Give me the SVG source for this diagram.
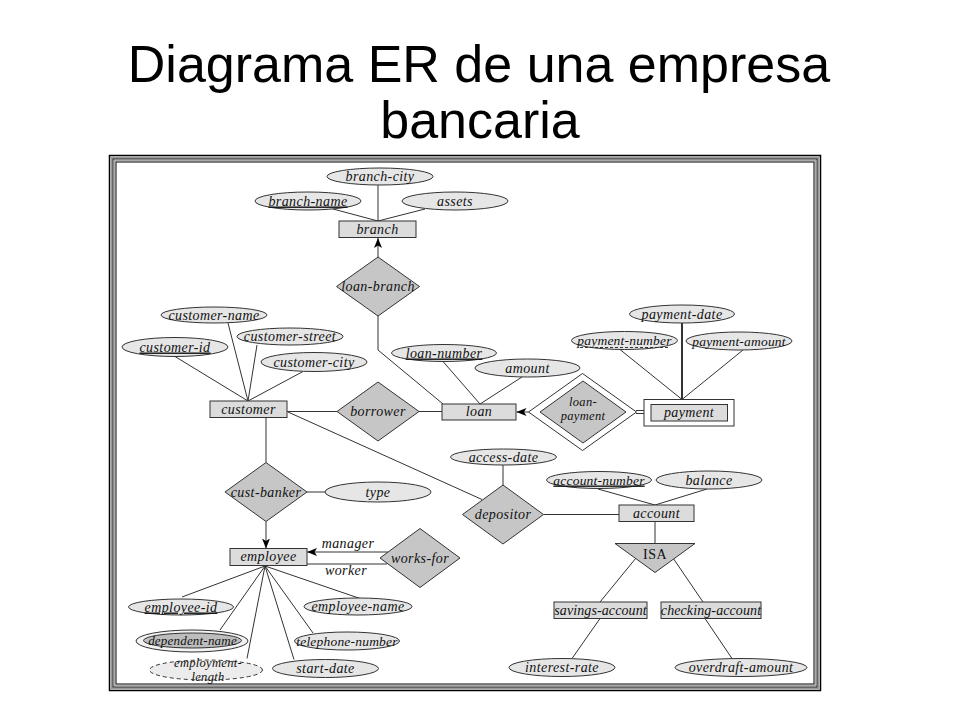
<svg xmlns="http://www.w3.org/2000/svg" width="960" height="720" viewBox="0 0 960 720">
<defs>
<marker id="arr" markerUnits="userSpaceOnUse" markerWidth="10" markerHeight="8" refX="10" refY="4" orient="auto">
<path d="M0,0 L10,4 L0,8 L2.5,4 z" fill="#000"/>
</marker>
<style>
.t{font-family:"Liberation Serif","Times New Roman",serif;font-style:italic;font-size:14px;letter-spacing:0.4px;fill:#111;text-anchor:middle}
.title{font-family:"Liberation Sans",Arial,sans-serif;font-size:52px;fill:#000;text-anchor:middle}
.ent{fill:#dcdcdc;stroke:#333;stroke-width:1}
.attr{fill:#e6e6e6;stroke:#333;stroke-width:1}
.rel{fill:#c6c6c6;stroke:#333;stroke-width:1}
.c line,.c polyline{stroke:#333;stroke-width:1;fill:none}
.u{text-decoration:underline}
.s{font-size:12.5px;letter-spacing:0.3px}
</style>
</defs>
<rect width="960" height="720" fill="#fff"/>
<text class="title" x="479" y="82">Diagrama ER de una empresa</text>
<text class="title" x="480" y="138">bancaria</text>

<g id="frame" fill="none">
<rect x="109.5" y="155.5" width="711" height="535" stroke="#000" stroke-width="1.5"/>
<rect x="111.5" y="157.5" width="707" height="531" stroke="#999" stroke-width="2"/>
<rect x="113" y="159" width="704" height="528" stroke="#000" stroke-width="1"/>
<rect x="114.5" y="160.5" width="701" height="525" stroke="#aaa" stroke-width="1.5"/>
<rect x="116" y="162" width="698" height="522" stroke="#000" stroke-width="1"/>
</g>

<g id="connectors" class="c">
<line x1="378" y1="185" x2="378" y2="221"/>
<line x1="333" y1="209" x2="378" y2="221"/>
<line x1="425" y1="209" x2="378" y2="221"/>
<line x1="378" y1="257" x2="378" y2="238" marker-end="url(#arr)"/>
<polyline points="378,316 378,350 443,404"/>
<line x1="175" y1="356.5" x2="248" y2="401"/>
<line x1="228" y1="323" x2="248" y2="401"/>
<line x1="257" y1="345" x2="248" y2="401"/>
<line x1="303" y1="371.5" x2="248" y2="401"/>
<line x1="287" y1="411.5" x2="337" y2="411.5"/>
<line x1="419" y1="411.5" x2="442" y2="411.5"/>
<line x1="443" y1="361.5" x2="480" y2="404"/>
<line x1="522" y1="377" x2="480" y2="404"/>
<line x1="528.5" y1="412" x2="516.5" y2="412" marker-end="url(#arr)"/>
<line x1="636" y1="410.5" x2="644" y2="410.5"/>
<line x1="636" y1="413.5" x2="644" y2="413.5"/>
<line x1="682" y1="323" x2="682" y2="399.5" style="stroke-width:2"/>
<line x1="620" y1="349.5" x2="682" y2="399.5"/>
<line x1="743" y1="350" x2="682" y2="399.5"/>
<line x1="288" y1="412" x2="482" y2="499.5"/>
<line x1="266" y1="417" x2="266" y2="462.5"/>
<line x1="307" y1="492" x2="325" y2="492"/>
<line x1="266" y1="521.5" x2="266" y2="548.5" marker-end="url(#arr)"/>
<line x1="388.5" y1="552" x2="307" y2="552" marker-end="url(#arr)"/>
<line x1="387" y1="564" x2="307" y2="564"/>
<line x1="265" y1="566" x2="182" y2="597"/>
<line x1="265" y1="566" x2="360" y2="598.5"/>
<line x1="265" y1="566" x2="220" y2="630"/>
<line x1="265" y1="566" x2="313" y2="633"/>
<line x1="265" y1="566" x2="247" y2="658.5"/>
<line x1="265" y1="566" x2="294" y2="659.5"/>
<line x1="503" y1="465" x2="503" y2="485"/>
<line x1="543.5" y1="514.5" x2="619" y2="514.5"/>
<line x1="598" y1="489" x2="655" y2="505"/>
<line x1="707" y1="489" x2="655" y2="505"/>
<line x1="655" y1="521.5" x2="655" y2="543.5"/>
<line x1="636" y1="558" x2="600" y2="602"/>
<line x1="673" y1="558" x2="703" y2="602"/>
<line x1="600" y1="618.5" x2="572" y2="658.5"/>
<line x1="705" y1="618.5" x2="732" y2="658.5"/>
</g>

<g id="branch-city"><ellipse class="attr" cx="380" cy="176.5" rx="53" ry="8.5"/><text class="t" x="380" y="181">branch-city</text></g>
<g id="branch-name"><ellipse class="attr" cx="308" cy="201" rx="53" ry="9"/><text class="t u" x="308" y="205.5">branch-name</text></g>
<g id="assets"><ellipse class="attr" cx="455" cy="201" rx="53" ry="9"/><text class="t" x="455" y="205.5">assets</text></g>
<g id="branch"><rect class="ent" x="339" y="221" width="77" height="16.5"/><text class="t" x="377.5" y="233.5">branch</text></g>
<g id="loan-branch"><polygon class="rel" points="378,257 419.5,286.5 378,316 336.5,286.5"/><text class="t" x="378" y="291">loan-branch</text></g>

<g id="customer-name"><ellipse class="attr" cx="214" cy="315" rx="53" ry="8"/><text class="t" x="214" y="319.5">customer-name</text></g>
<g id="customer-street"><ellipse class="attr" cx="290" cy="336.5" rx="53" ry="8.5"/><text class="t" x="290" y="341">customer-street</text></g>
<g id="customer-id"><ellipse class="attr" cx="175" cy="347" rx="53" ry="9.5"/><text class="t u" x="175" y="351.5">customer-id</text></g>
<g id="customer-city"><ellipse class="attr" cx="314" cy="362" rx="53" ry="9.5"/><text class="t" x="314" y="366.5">customer-city</text></g>
<g id="customer"><rect class="ent" x="210" y="401" width="77" height="16.5"/><text class="t" x="248.5" y="413.5">customer</text></g>
<g id="borrower"><polygon class="rel" points="378,382 419,411.5 378,441 337,411.5"/><text class="t" x="378" y="416">borrower</text></g>
<g id="loan-number"><ellipse class="attr" cx="444" cy="353" rx="52.5" ry="8.5"/><text class="t u" x="444" y="357.5">loan-number</text></g>
<g id="amount"><ellipse class="attr" cx="527.5" cy="368" rx="52.5" ry="9"/><text class="t" x="527.5" y="372.5">amount</text></g>
<g id="loan"><rect class="ent" x="442" y="404" width="74" height="16"/><text class="t" x="479" y="416">loan</text></g>
<g id="loan-payment"><polygon points="582.5,373.5 636.5,412 582.5,450.5 528.5,412" fill="#fff" stroke="#333"/><polygon class="rel" points="583,381 626,412 583,443 540,412"/><text class="t s" x="583" y="406">loan-</text><text class="t s" x="583" y="420">payment</text></g>
<g id="payment"><rect x="644" y="399.5" width="90" height="26.5" fill="#fff" stroke="#333"/><rect class="ent" x="651" y="404.5" width="76.5" height="16.5"/><text class="t" x="689" y="417">payment</text></g>
<g id="payment-date"><ellipse class="attr" cx="682" cy="314" rx="52.5" ry="9"/><text class="t" x="682" y="318.5">payment-date</text></g>
<g id="payment-number"><ellipse class="attr" cx="624.5" cy="340.5" rx="53" ry="9"/><text class="t" x="624.5" y="345" style="font-size:13.5px;letter-spacing:0.2px">payment-number</text><line x1="580" y1="347.5" x2="670" y2="347.5" stroke="#222" stroke-width="0.9" stroke-dasharray="3,2"/></g>
<g id="payment-amount"><ellipse class="attr" cx="739" cy="341" rx="53" ry="9"/><text class="t" x="739" y="345.5" style="font-size:13.5px;letter-spacing:0.2px">payment-amount</text></g>

<g id="cust-banker"><polygon class="rel" points="266,462.5 307,492 266,521.5 225,492"/><text class="t" x="266" y="496.5">cust-banker</text></g>
<g id="type"><ellipse class="attr" cx="378" cy="492" rx="53" ry="10"/><text class="t" x="378" y="496.5">type</text></g>
<g id="employee"><rect class="ent" x="230" y="548.5" width="77" height="17"/><text class="t" x="268.5" y="561">employee</text></g>
<g id="works-for"><polygon class="rel" points="420,528.5 460,558 420,587.5 380,558"/><text class="t" x="420" y="562.5">works-for</text></g>
<g id="role-labels"><text class="t" x="348" y="548">manager</text><text class="t" x="346" y="575">worker</text></g>
<g id="employee-id"><ellipse class="attr" cx="181" cy="607" rx="52.5" ry="8"/><text class="t u" x="181" y="611.5">employee-id</text></g>
<g id="employee-name"><ellipse class="attr" cx="358" cy="606.5" rx="54" ry="8.5"/><text class="t" x="358" y="611">employee-name</text></g>
<g id="dependent-name"><ellipse cx="192" cy="641" rx="56" ry="11" fill="#f2f2f2" stroke="#333"/><ellipse cx="192.5" cy="640.5" rx="49" ry="7.5" fill="#bdbdbd" stroke="#333"/><text class="t" x="192.5" y="645" style="font-size:13px;letter-spacing:0.2px">dependent-name</text></g>
<g id="telephone-number"><ellipse class="attr" cx="347" cy="641" rx="52.5" ry="9"/><text class="t" x="347" y="645.5" style="font-size:13.5px;letter-spacing:0.2px">telephone-number</text></g>
<g id="employment-length"><ellipse cx="206" cy="670" rx="56.5" ry="10" fill="#ececec" stroke="#333" stroke-dasharray="4,3"/><text class="t s" x="208" y="667">employment-</text><text class="t s" x="208" y="681">length</text></g>
<g id="start-date"><ellipse class="attr" cx="325.5" cy="668.5" rx="53" ry="9"/><text class="t" x="325.5" y="673">start-date</text></g>

<g id="access-date"><ellipse class="attr" cx="503.5" cy="457" rx="53" ry="8"/><text class="t" x="503.5" y="461.5">access-date</text></g>
<g id="depositor"><polygon class="rel" points="503,485 543.5,514.5 503,544 462.5,514.5"/><text class="t" x="503" y="519">depositor</text></g>
<g id="account-number"><ellipse class="attr" cx="599" cy="480" rx="52.5" ry="8.5"/><text class="t u" x="599" y="484.5" style="font-size:13.5px;letter-spacing:0.2px">account-number</text></g>
<g id="balance"><ellipse class="attr" cx="709" cy="480" rx="53" ry="9"/><text class="t" x="709" y="484.5">balance</text></g>
<g id="account"><rect class="ent" x="619" y="505" width="75" height="16.5"/><text class="t" x="656.5" y="517.5">account</text></g>
<g id="ISA"><polygon class="rel" points="615,543.5 695,543.5 655,572.5"/><text x="655" y="559" style="font-family:'Liberation Serif','Times New Roman',serif;font-size:14px;letter-spacing:0.5px;fill:#111;text-anchor:middle">ISA</text></g>
<g id="savings-account"><rect class="ent" x="554" y="602" width="93" height="16.5"/><text class="t" x="600.5" y="614.5" style="letter-spacing:0.1px">savings-account</text></g>
<g id="checking-account"><rect class="ent" x="661" y="602" width="100" height="16.5"/><text class="t" x="711" y="614.5" style="letter-spacing:0.1px">checking-account</text></g>
<g id="interest-rate"><ellipse class="attr" cx="562" cy="667.5" rx="53" ry="9"/><text class="t" x="562" y="672">interest-rate</text></g>
<g id="overdraft-amount"><ellipse class="attr" cx="741" cy="667.5" rx="66" ry="9"/><text class="t" x="741" y="672">overdraft-amount</text></g>
</svg>
